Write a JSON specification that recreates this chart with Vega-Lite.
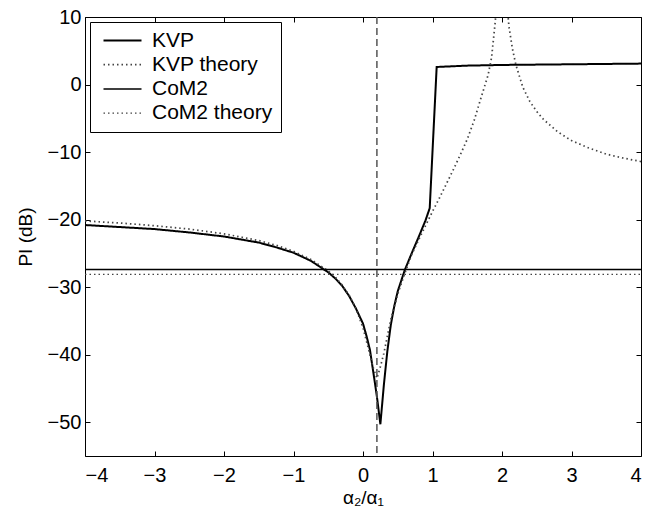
{
  "$schema": "https://vega.github.io/schema/vega-lite/v6.json",
  "width": 556,
  "height": 439,
  "autosize": "none",
  "padding": {"left": 85, "top": 17, "right": 5, "bottom": 64},
  "background": "white",
  "config": {
    "font": "Liberation Sans",
    "view": {"stroke": "black", "strokeWidth": 1},
    "axis": {
      "labelFont": "Liberation Sans",
      "labelFontSize": 20,
      "labelColor": "black",
      "titleFont": "Liberation Sans",
      "titleFontSize": 19,
      "titleFontWeight": "normal",
      "titleColor": "black",
      "domainColor": "black",
      "tickColor": "black",
      "grid": false
    }
  },
  "resolve": {"axis": {"x": "independent", "y": "independent"}},
  "data": {
    "values": [
      {"s": "KVP", "x": -4, "y": -20.8},
      {"s": "KVP", "x": -3.5, "y": -21.1},
      {"s": "KVP", "x": -3, "y": -21.4},
      {"s": "KVP", "x": -2.5, "y": -21.9},
      {"s": "KVP", "x": -2, "y": -22.5},
      {"s": "KVP", "x": -1.5, "y": -23.4},
      {"s": "KVP", "x": -1.25, "y": -24.1},
      {"s": "KVP", "x": -1, "y": -24.9},
      {"s": "KVP", "x": -0.75, "y": -26.1},
      {"s": "KVP", "x": -0.5, "y": -27.8},
      {"s": "KVP", "x": -0.4, "y": -28.7},
      {"s": "KVP", "x": -0.3, "y": -29.8},
      {"s": "KVP", "x": -0.2, "y": -31.3},
      {"s": "KVP", "x": -0.1, "y": -33.2},
      {"s": "KVP", "x": 0, "y": -35.4},
      {"s": "KVP", "x": 0.05, "y": -37.2},
      {"s": "KVP", "x": 0.1, "y": -39.3},
      {"s": "KVP", "x": 0.15, "y": -42.7},
      {"s": "KVP", "x": 0.2, "y": -46.2},
      {"s": "KVP", "x": 0.25, "y": -50.3},
      {"s": "KVP", "x": 0.3, "y": -44.5},
      {"s": "KVP", "x": 0.35, "y": -39.5},
      {"s": "KVP", "x": 0.4, "y": -35.6},
      {"s": "KVP", "x": 0.45, "y": -32.8},
      {"s": "KVP", "x": 0.5, "y": -30.6},
      {"s": "KVP", "x": 0.6, "y": -27.5},
      {"s": "KVP", "x": 0.7, "y": -25.0},
      {"s": "KVP", "x": 0.8, "y": -22.6},
      {"s": "KVP", "x": 0.9, "y": -20.1},
      {"s": "KVP", "x": 0.96, "y": -18.3},
      {"s": "KVP", "x": 1.06, "y": 2.6},
      {"s": "KVP", "x": 1.5, "y": 2.8},
      {"s": "KVP", "x": 2, "y": 2.9},
      {"s": "KVP", "x": 2.5, "y": 2.95},
      {"s": "KVP", "x": 3, "y": 3.0},
      {"s": "KVP", "x": 3.5, "y": 3.05},
      {"s": "KVP", "x": 4, "y": 3.1},
      {"s": "KVP theory", "x": -4, "y": -20.2},
      {"s": "KVP theory", "x": -3.5, "y": -20.5},
      {"s": "KVP theory", "x": -3, "y": -20.9},
      {"s": "KVP theory", "x": -2.5, "y": -21.4},
      {"s": "KVP theory", "x": -2, "y": -22.1},
      {"s": "KVP theory", "x": -1.5, "y": -23.1},
      {"s": "KVP theory", "x": -1.25, "y": -23.8},
      {"s": "KVP theory", "x": -1, "y": -24.7},
      {"s": "KVP theory", "x": -0.75, "y": -25.9},
      {"s": "KVP theory", "x": -0.5, "y": -27.6},
      {"s": "KVP theory", "x": -0.4, "y": -28.5},
      {"s": "KVP theory", "x": -0.3, "y": -29.7},
      {"s": "KVP theory", "x": -0.2, "y": -31.2},
      {"s": "KVP theory", "x": -0.1, "y": -33.2},
      {"s": "KVP theory", "x": 0, "y": -36.0},
      {"s": "KVP theory", "x": 0.05, "y": -38.0},
      {"s": "KVP theory", "x": 0.1, "y": -40.0},
      {"s": "KVP theory", "x": 0.15, "y": -42.0},
      {"s": "KVP theory", "x": 0.2, "y": -43.5},
      {"s": "KVP theory", "x": 0.25, "y": -41.8},
      {"s": "KVP theory", "x": 0.3, "y": -39.8},
      {"s": "KVP theory", "x": 0.35, "y": -37.3},
      {"s": "KVP theory", "x": 0.4, "y": -34.8},
      {"s": "KVP theory", "x": 0.5, "y": -31.0},
      {"s": "KVP theory", "x": 0.6, "y": -28.0},
      {"s": "KVP theory", "x": 0.7, "y": -25.2},
      {"s": "KVP theory", "x": 0.8, "y": -23.0},
      {"s": "KVP theory", "x": 0.9, "y": -20.9},
      {"s": "KVP theory", "x": 1.0, "y": -18.8},
      {"s": "KVP theory", "x": 1.1, "y": -16.8},
      {"s": "KVP theory", "x": 1.2, "y": -14.7},
      {"s": "KVP theory", "x": 1.3, "y": -12.6},
      {"s": "KVP theory", "x": 1.4, "y": -10.4},
      {"s": "KVP theory", "x": 1.5, "y": -8.1},
      {"s": "KVP theory", "x": 1.6, "y": -5.3},
      {"s": "KVP theory", "x": 1.7, "y": -1.9},
      {"s": "KVP theory", "x": 1.8, "y": 1.4},
      {"s": "KVP theory", "x": 1.85, "y": 4.0},
      {"s": "KVP theory", "x": 1.9, "y": 9.0},
      {"s": "KVP theory", "x": 1.95, "y": 15.0},
      {"s": "KVP theory", "x": 2.0, "y": 30.0},
      {"s": "KVP theory", "x": 2.05, "y": 14.5},
      {"s": "KVP theory", "x": 2.1, "y": 8.6},
      {"s": "KVP theory", "x": 2.15, "y": 5.3},
      {"s": "KVP theory", "x": 2.2, "y": 2.9},
      {"s": "KVP theory", "x": 2.3, "y": -0.4},
      {"s": "KVP theory", "x": 2.4, "y": -2.5},
      {"s": "KVP theory", "x": 2.5, "y": -4.0},
      {"s": "KVP theory", "x": 2.6, "y": -5.2},
      {"s": "KVP theory", "x": 2.8, "y": -7.0},
      {"s": "KVP theory", "x": 3.0, "y": -8.3},
      {"s": "KVP theory", "x": 3.25, "y": -9.4},
      {"s": "KVP theory", "x": 3.5, "y": -10.3},
      {"s": "KVP theory", "x": 3.75, "y": -10.9},
      {"s": "KVP theory", "x": 4.0, "y": -11.4},
      {"s": "CoM2", "x": -4, "y": -27.4},
      {"s": "CoM2", "x": 4, "y": -27.4},
      {"s": "CoM2 theory", "x": -4, "y": -28.1},
      {"s": "CoM2 theory", "x": 4, "y": -28.1}
    ]
  },
  "layer": [
    {
      "mark": {"type": "line", "clip": true},
      "encoding": {
        "x": {
          "field": "x", "type": "quantitative",
          "scale": {"domain": [-4, 4], "nice": false, "zero": false},
          "axis": {"orient": "bottom", "title": "α₂/α₁", "values": [-4, -3, -2, -1, 0, 1, 2, 3, 4], "tickSize": -5, "labelPadding": 14, "titlePadding": 3, "domain": false}
        },
        "y": {
          "field": "y", "type": "quantitative",
          "scale": {"domain": [-55, 10], "nice": false, "zero": false},
          "axis": {"orient": "left", "title": "PI (dB)", "values": [-50, -40, -30, -20, -10, 0, 10], "tickSize": -5, "labelPadding": 9, "titlePadding": 12, "domain": false}
        },
        "color": {
          "field": "s", "type": "nominal",
          "scale": {"domain": ["KVP", "KVP theory", "CoM2", "CoM2 theory"], "range": ["black", "#444444", "black", "#444444"]},
          "legend": {"title": null, "orient": "none", "legendX": 5, "legendY": 5, "padding": 8, "fillColor": "white", "strokeColor": "black", "symbolType": "M-3.8,0H3.8", "symbolSize": 100, "symbolOffset": 14, "labelOffset": 19, "labelFontSize": 21, "labelFont": "Liberation Sans", "labelColor": "black", "rowPadding": 2.2, "labelLimit": 300}
        },
        "strokeDash": {
          "field": "s", "type": "nominal",
          "scale": {"domain": ["KVP", "KVP theory", "CoM2", "CoM2 theory"], "range": [[1, 0], [1.5, 3], [1, 0], [1.5, 3]]},
          "legend": {"title": null, "orient": "none", "legendX": 5, "legendY": 5, "padding": 8, "fillColor": "white", "strokeColor": "black", "symbolType": "M-3.8,0H3.8", "symbolSize": 100, "symbolOffset": 14, "labelOffset": 19, "labelFontSize": 21, "labelFont": "Liberation Sans", "labelColor": "black", "rowPadding": 2.2, "labelLimit": 300}
        },
        "strokeWidth": {
          "field": "s", "type": "nominal",
          "scale": {"domain": ["KVP", "KVP theory", "CoM2", "CoM2 theory"], "range": [2, 1.2, 1, 1.2]},
          "legend": {"title": null, "orient": "none", "legendX": 5, "legendY": 5, "padding": 8, "fillColor": "white", "strokeColor": "black", "symbolType": "M-3.8,0H3.8", "symbolSize": 100, "symbolOffset": 14, "labelOffset": 19, "labelFontSize": 21, "labelFont": "Liberation Sans", "labelColor": "black", "rowPadding": 2.2, "labelLimit": 300}
        }
      }
    },
    {
      "data": {"values": [{"v": 0.2}]},
      "mark": {"type": "rule", "color": "#555555", "strokeWidth": 1.5, "strokeDash": [7, 4]},
      "encoding": {
        "x": {"field": "v", "type": "quantitative", "axis": null}
      }
    },
    {
      "mark": {"type": "point", "opacity": 0},
      "encoding": {
        "x": {"field": "x", "type": "quantitative", "axis": {"orient": "top", "title": null, "labels": false, "values": [-4, -3, -2, -1, 0, 1, 2, 3, 4], "tickSize": -5, "domain": false}},
        "y": {"field": "y", "type": "quantitative", "axis": {"orient": "right", "title": null, "labels": false, "values": [-50, -40, -30, -20, -10, 0, 10], "tickSize": -5, "domain": false}}
      }
    }
  ]
}
